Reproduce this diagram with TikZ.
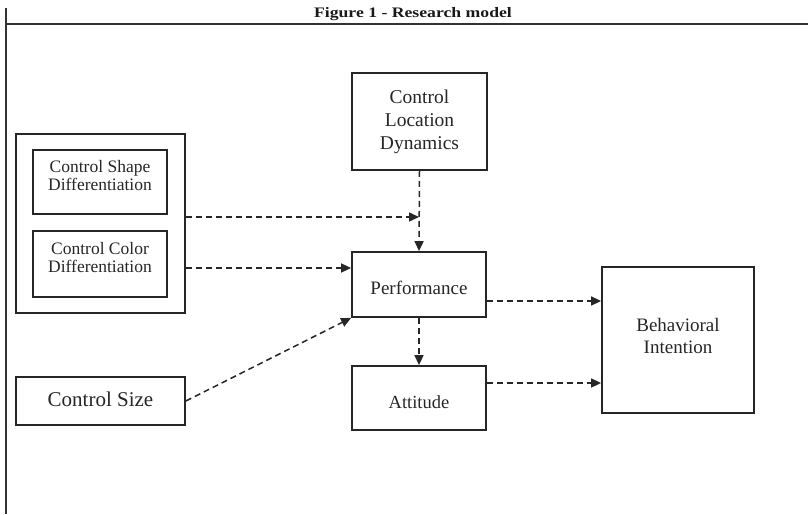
\documentclass[tikz,border=0pt]{standalone}
\usepackage{fontspec}
\setmainfont{Liberation Serif}
\usetikzlibrary{arrows.meta}
\begin{document}
\begin{tikzpicture}[x=1pt,y=-1pt,
  box/.style={draw=black!85,line width=1.8pt,inner sep=0pt,align=center,text=black!85},
  dasharrow/.style={draw=black!85,line width=1.5pt,dash pattern=on 6pt off 4pt,-{Triangle[length=10pt,width=9pt]}},
  frameline/.style={draw=black!80,line width=1.8pt}]
\useasboundingbox (0,0) rectangle (808,514);
% frame
\coordinate (fl) at (5,24);
\coordinate (fr) at (808,24);
\coordinate (vt) at (6,8);
\coordinate (vb) at (6,514);
\draw[frameline] (fl) -- (fr);
\draw[frameline] (vt) -- (vb);
\node[text=black!90] (title) at (413,14) {\scalebox{1.22}[1]{\fontsize{14.5}{15}\selectfont\bfseries Figure 1 - Research model}};
% nodes
\node[box,minimum width=169pt,minimum height=179pt] (group) at (100.5,223.5) {};
\node[box,minimum width=134pt,minimum height=64pt,font=\fontsize{17.5}{18}\selectfont] (shape) at (100,182) {Control Shape\\Differentiation\\[-4pt]};
\node[box,minimum width=134pt,minimum height=66pt,font=\fontsize{17.5}{18}\selectfont] (color) at (100,264) {Control Color\\Differentiation\\[-4pt]};
\node[box,minimum width=135pt,minimum height=97pt,font=\fontsize{19.5}{23}\selectfont] (cld) at (419.5,121.5) {Control\\Location\\Dynamics};
\node[box,minimum width=134pt,minimum height=65pt,font=\fontsize{19}{22}\selectfont] (perf) at (419,284.5) {\raisebox{-3pt}[\height][\depth]{Performance}};
\node[box,minimum width=134pt,minimum height=64pt,font=\fontsize{18.5}{22}\selectfont] (att) at (419,398) {\raisebox{-4pt}[\height][\depth]{Attitude}};
\node[box,minimum width=152pt,minimum height=146pt,font=\fontsize{19}{22}\selectfont] (bi) at (678,340) {Behavioral\\Intention\\[-14pt]};
\node[box,minimum width=169pt,minimum height=48pt,font=\fontsize{21}{24}\selectfont] (size) at (100.5,401) {\raisebox{2pt}[\height][\depth]{Control Size}};
% connector helpers
\coordinate (j) at (419,217);
\coordinate (cy) at (0,268);
\coordinate (py) at (0,301);
\coordinate (ay) at (0,383);
% connectors
\draw[dasharrow] (group.east |- j) -- (j);
\draw[dasharrow] (cld.south) -- (perf.north);
\draw[dasharrow] (group.east |- cy) -- (perf.west |- cy);
\draw[dasharrow] (size.east) -- (perf.south west);
\draw[dasharrow] (perf.south) -- (att.north);
\draw[dasharrow] (perf.east |- py) -- (bi.west |- py);
\draw[dasharrow] (att.east |- ay) -- (bi.west |- ay);
\end{tikzpicture}
\end{document}
